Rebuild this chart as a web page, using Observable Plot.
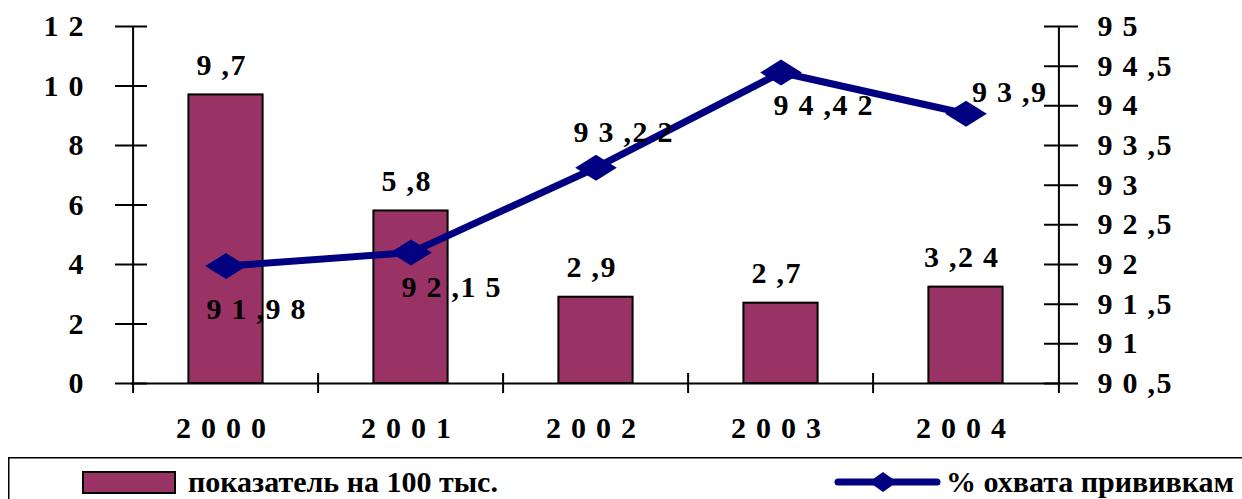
<!DOCTYPE html>
<html>
<head>
<meta charset="utf-8">
<script src="https://cdn.jsdelivr.net/npm/d3@7"></script>
<script src="https://cdn.jsdelivr.net/npm/@observablehq/plot@0.6"></script>
<style>
  html, body { margin: 0; padding: 0; background: #fff; overflow: hidden; }
  #wrap { position: relative; width: 1242px; height: 499px; overflow: hidden; background: #fff; }
  #wrap > svg { position: absolute; left: 0; }
  #wrap svg text { font-family: "Liberation Serif", "Times New Roman", Times, "DejaVu Serif", serif; font-weight: bold; }
</style>
</head>
<body>
<div id="wrap"></div>
<script>
// Годы, заболеваемость на 100 тыс. и процент охвата прививками
const years = ["2000", "2001", "2002", "2003", "2004"];
const ratePer100k = [9.7, 5.8, 2.9, 2.7, 3.24];
const coveragePct = [91.98, 92.15, 93.22, 94.42, 93.9];
const rateTicks = [0, 2, 4, 6, 8, 10, 12];
const coverageTicks = [90.5, 91, 91.5, 92, 92.5, 93, 93.5, 94, 94.5, 95];
const seriesNames = ["показатель на 100 тыс.", "% охвата прививкам"];

const rows = years.map((year, i) => ({year, rate: ratePer100k[i], cov: coveragePct[i]}));

// Layout
const W = 1242, H = 457;
const mL = 131, mR = 182, mT = 26, mB = 74;
const plotW = W - mL - mR, plotH = H - mT - mB;
const bw = plotW / years.length;
const barW = 75;

const BAR = "#993366", LINE = "#000080";
const FONT = "'Liberation Serif', 'Times New Roman', Times, 'DejaVu Serif', serif";

// The coverage series lives on the right axis; map it onto the left scale
const rateMax = rateTicks[rateTicks.length - 1];
const covMin = coverageTicks[0], covMax = coverageTicks[coverageTicks.length - 1];
const toRate = v => (v - covMin) / (covMax - covMin) * rateMax;
const fromRate = v => covMin + v / rateMax * (covMax - covMin);
const fmt = v => String(+(+v).toFixed(2)).replace(".", ",");

// Wide diamond marker
const wideDiamond = {
  draw(context, size) {
    const r = Math.sqrt(size / Math.PI);
    const hx = r * 1.6, hy = r;
    context.moveTo(-hx, 0);
    context.lineTo(0, -hy);
    context.lineTo(hx, 0);
    context.lineTo(0, hy);
    context.closePath();
  }
};

// Label nudges for the coverage values (dx, dy)
const coverageLabelOffsets = [[35, 43], [45, 35], [32, -35], [47, 33], [48, -21]];
const ls = 10; // letter spacing between digits

const chart = Plot.plot({
  width: W,
  height: H,
  marginLeft: mL,
  marginRight: mR,
  marginTop: mT,
  marginBottom: mB,
  style: {
    fontFamily: FONT,
    fontWeight: "bold",
    fontSize: "30px",
    letterSpacing: ls + "px",
    color: "#000",
    background: "transparent",
    overflow: "visible"
  },
  x: {domain: years, padding: 0},
  y: {domain: [0, rateMax]},
  marks: [
    Plot.barY(rows, {
      x: "year", y: "rate", fill: BAR, stroke: "#000", strokeWidth: 2,
      insetLeft: (bw - barW) / 2, insetRight: (bw - barW) / 2
    }),
    Plot.ruleY([0], {stroke: "#000", strokeWidth: 2}),
    // axis lines and category separators
    Plot.ruleX([years[0]], {dx: -bw / 2, insetBottom: -10, stroke: "#000", strokeWidth: 2}),
    Plot.ruleX([years[years.length - 1]], {dx: bw / 2, insetBottom: -10, stroke: "#000", strokeWidth: 2}),
    Plot.ruleX(years.slice(1), {dx: -bw / 2, insetTop: plotH - 10, insetBottom: -10, stroke: "#000", strokeWidth: 2}),
    Plot.axisY(rateTicks, {
      anchor: "left", tickSize: 32, dx: 16, tickPadding: 22, strokeWidth: 2,
      label: null, tickFormat: d => String(d)
    }),
    Plot.axisY(coverageTicks.map(toRate), {
      anchor: "right", tickSize: 34, dx: -17, tickPadding: 20, strokeWidth: 2,
      label: null, tickFormat: d => fmt(fromRate(d))
    }),
    Plot.axisX({tickSize: 0, tickPadding: 33, label: null}),
    Plot.line(rows, {x: "year", y: d => toRate(d.cov), stroke: LINE, strokeWidth: 7}),
    Plot.dot(rows, {x: "year", y: d => toRate(d.cov), r: 13, symbol: wideDiamond, fill: LINE, stroke: null}),
    Plot.text(rows, {x: "year", y: "rate", text: d => fmt(d.rate), dy: -30, fill: "#000"}),
    ...rows.map((d, i) => Plot.text([d], {
      x: "year", y: r => toRate(r.cov), text: r => fmt(r.cov),
      dx: coverageLabelOffsets[i][0], dy: coverageLabelOffsets[i][1], fill: "#000"
    }))
  ]
});

// Tighten the spacing around the decimal comma
chart.querySelectorAll("text").forEach(t => {
  const s = t.textContent;
  const k = s.indexOf(",");
  if (k < 0 || t.children.length) return;
  t.textContent = "";
  const NS = "http://www.w3.org/2000/svg";
  [[s.slice(0, k), null], [",", "1.5px"], [s.slice(k + 1), null]].forEach(([part, sp]) => {
    const ts = document.createElementNS(NS, "tspan");
    ts.textContent = part;
    if (sp) ts.setAttribute("letter-spacing", sp);
    t.appendChild(ts);
  });
});

chart.style.top = "0px";
document.getElementById("wrap").appendChild(chart);

// Legend below the chart
const legend = d3.create("svg")
  .attr("width", W).attr("height", 499 - H)
  .style("top", H + "px")
  .style("font-family", FONT).style("font-weight", "bold").style("font-size", "30px");
legend.append("path")
  .attr("d", `M8.75,${499 - H} V0.75 H${W}`)
  .attr("fill", "none").attr("stroke", "#000").attr("stroke-width", 1.5);
legend.append("rect")
  .attr("x", 83).attr("y", 15).attr("width", 92).attr("height", 21)
  .attr("fill", BAR).attr("stroke", "#000").attr("stroke-width", 2);
legend.append("text").attr("x", 188).attr("y", 35).text(seriesNames[0]);
legend.append("line")
  .attr("x1", 838).attr("x2", 937).attr("y1", 25).attr("y2", 25)
  .attr("stroke", LINE).attr("stroke-width", 7).attr("stroke-linecap", "round");
legend.append("path")
  .attr("d", "M869,25 L883,15 L897,25 L883,35 Z")
  .attr("fill", LINE);
legend.append("text").attr("x", 946).attr("y", 35).text(seriesNames[1]);
document.getElementById("wrap").appendChild(legend.node());
</script>
</body>
</html>
